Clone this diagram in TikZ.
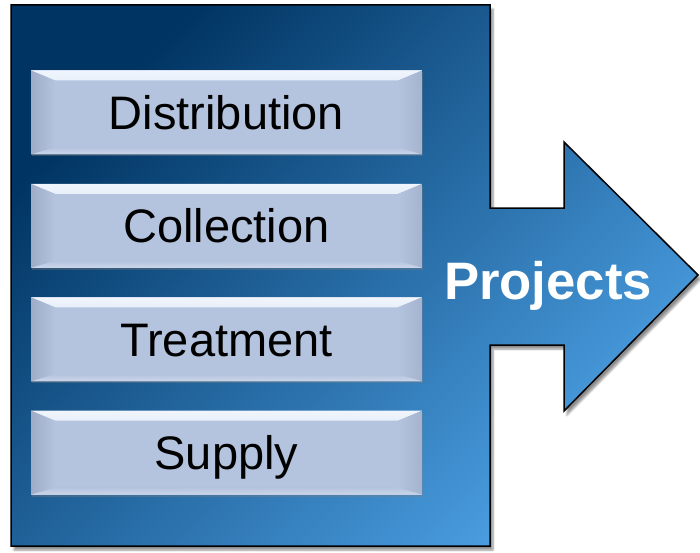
\documentclass[tikz,border=0pt]{standalone}
\usepackage{fontspec}
\setmainfont{Liberation Sans}
\usetikzlibrary{positioning,shadows,shadows.blur}
\definecolor{deepblue}{RGB}{0,52,98}
\definecolor{midblue}{RGB}{0,90,150}
\definecolor{skyblue}{RGB}{76,160,228}
\definecolor{btnfill}{RGB}{180,195,222}
\definecolor{btnlight}{RGB}{240,245,253}
\definecolor{btnside}{RGB}{158,172,200}
\definecolor{btnlow}{RGB}{205,215,234}

\begin{document}
\begin{tikzpicture}[x=1pt,y=-1pt]
    \tikzstyle{every node}=[font=\fontsize{47}{50}\selectfont]
    \def\bb{path picture bounding box}
    \tikzstyle{btn}=[fill=btnfill, minimum width=391pt, minimum height=84pt,
        inner sep=0pt, text height=34pt, text depth=0pt,
        drop shadow={shadow xshift=1pt, shadow yshift=-2pt, opacity=0.35},
        path picture={
            \shade[top color=btnlight, bottom color=btnfill]
                (\bb.north west) -- (\bb.north east) -- ([shift={(-24pt,-10pt)}]\bb.north east)
                -- ([shift={(24pt,-10pt)}]\bb.north west) -- cycle;
            \shade[left color=btnside, right color=btnfill]
                (\bb.north west) -- ([shift={(24pt,-10pt)}]\bb.north west)
                -- ([shift={(24pt,7pt)}]\bb.south west) -- (\bb.south west) -- cycle;
            \shade[left color=btnfill, right color=btnside!70!btnfill]
                (\bb.north east) -- ([shift={(-24pt,-10pt)}]\bb.north east)
                -- ([shift={(-24pt,7pt)}]\bb.south east) -- (\bb.south east) -- cycle;
            \shade[top color=btnfill, bottom color=btnlow]
                (\bb.south west) -- (\bb.south east) -- ([shift={(-24pt,7pt)}]\bb.south east)
                -- ([shift={(24pt,7pt)}]\bb.south west) -- cycle;
        }]
    \useasboundingbox (0,0) rectangle (700,553);

    % panel and arrow as one outline
    \path[draw=black, line width=1.5pt, top color=deepblue, middle color=midblue,
        bottom color=skyblue, shading angle=45,
        blur shadow={shadow xshift=3pt, shadow yshift=-4pt, shadow blur steps=6, shadow opacity=45}]
        (11,5) -- (490,5) -- (490,208) -- (564,208) -- (564,142) -- (698,275)
        -- (564,411) -- (564,345) -- (490,345) -- (490,546) -- (11,546) -- cycle;

    \node[btn] (dist) at (226.5,112.5) {Distribution};
    \node[btn, below=29pt of dist] (coll) {Collection};
    \node[btn, below=29pt of coll] (treat) {Treatment};
    \node[btn, below=29pt of treat] (sup) {Supply};

    \node[white, font=\fontsize{52.7}{56}\selectfont\bfseries, inner sep=0pt,
        text height=37.7pt, text depth=0pt] (proj) at (548,280.5) {Projects};
\end{tikzpicture}
\end{document}
